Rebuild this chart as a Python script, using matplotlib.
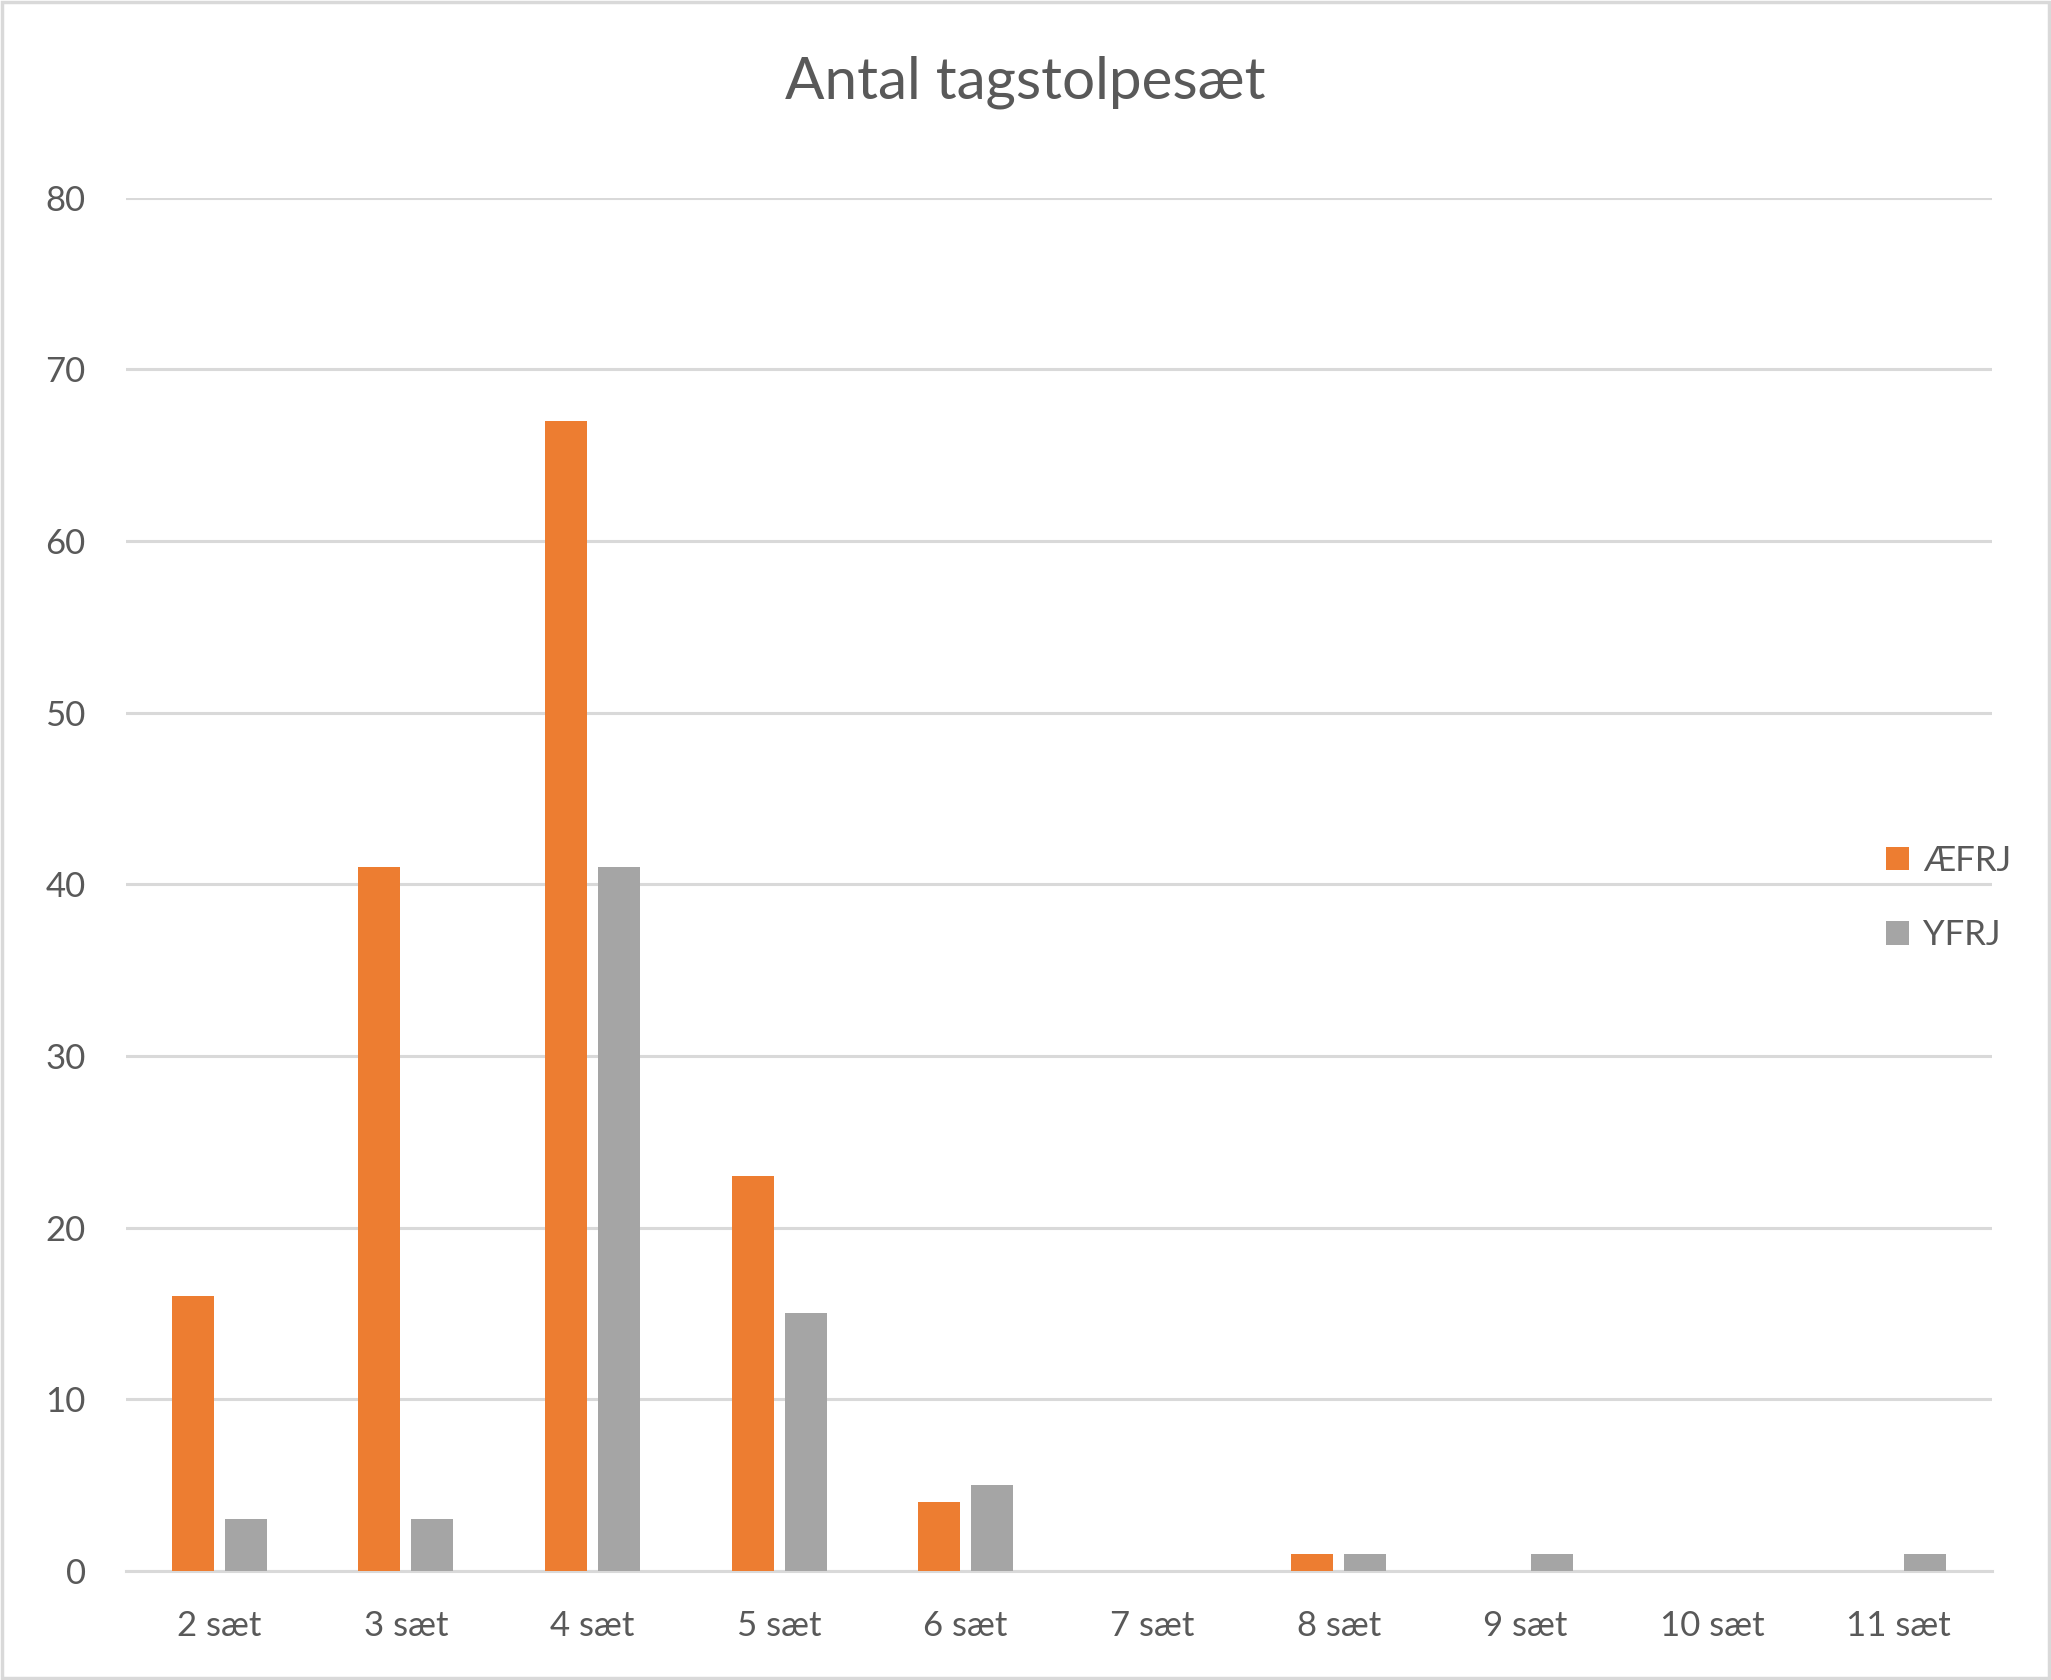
import numpy as np
import matplotlib.pyplot as plt
from matplotlib.patches import Rectangle

plt.rcParams['font.family'] = ['Lato', 'DejaVu Sans']

# Données
categories = ['2 sæt', '3 sæt', '4 sæt', '5 sæt', '6 sæt', '7 sæt',
              '8 sæt', '9 sæt', '10 sæt', '11 sæt']
aefrj = [16, 41, 67, 23, 4, 0, 1, 0, 0, 0]
yfrj = [3, 3, 41, 15, 5, 0, 1, 1, 0, 1]
yticks = [0, 10, 20, 30, 40, 50, 60, 70, 80]

text_col = '#595959'
grid_col = '#D9D9D9'

fig = plt.figure(figsize=(20.51, 16.80), dpi=100)
ax = fig.add_axes([0.0614, 0.0649, 0.9098, 0.8175])

x = np.arange(len(categories))
w = 0.225
off = 0.142
ax.bar(x - off, aefrj, w, color='#ED7D31', label='ÆFRJ', zorder=3)
ax.bar(x + off, yfrj, w, color='#A5A5A5', label='YFRJ', zorder=3)

ax.set_xlim(-0.5, len(categories) - 0.5)
ax.set_ylim(0, 80)
ax.set_yticks(yticks)
ax.set_xticks(x)
ax.set_xticklabels(categories)
ax.yaxis.grid(True, color=grid_col, linewidth=2.2, zorder=0)
ax.set_axisbelow(True)
for s in ['top', 'right', 'left']:
    ax.spines[s].set_visible(False)
ax.spines['bottom'].set_color(grid_col)
ax.spines['bottom'].set_linewidth(2.2)
ax.tick_params(axis='both', length=0, labelsize=25, labelcolor=text_col)
ax.tick_params(axis='y', pad=29)
ax.tick_params(axis='x', pad=28)

fig.text(0.5, 0.951, 'Antal tagstolpesæt', ha='center', va='center',
         fontsize=42, color=text_col)

leg = fig.legend(loc='center left', bbox_to_anchor=(0.9196, 0.4655),
                 frameon=False, fontsize=25, handlelength=0.66,
                 handleheight=0.66, handletextpad=0.4, labelspacing=1.22,
                 borderaxespad=0, borderpad=0)
for t in leg.get_texts():
    t.set_color(text_col)

fig.patches.append(Rectangle((0.001, 0.001), 0.998, 0.998, transform=fig.transFigure,
                             fill=False, edgecolor=grid_col, linewidth=2.5))

fig.savefig('out.png', dpi=100, facecolor='white')
